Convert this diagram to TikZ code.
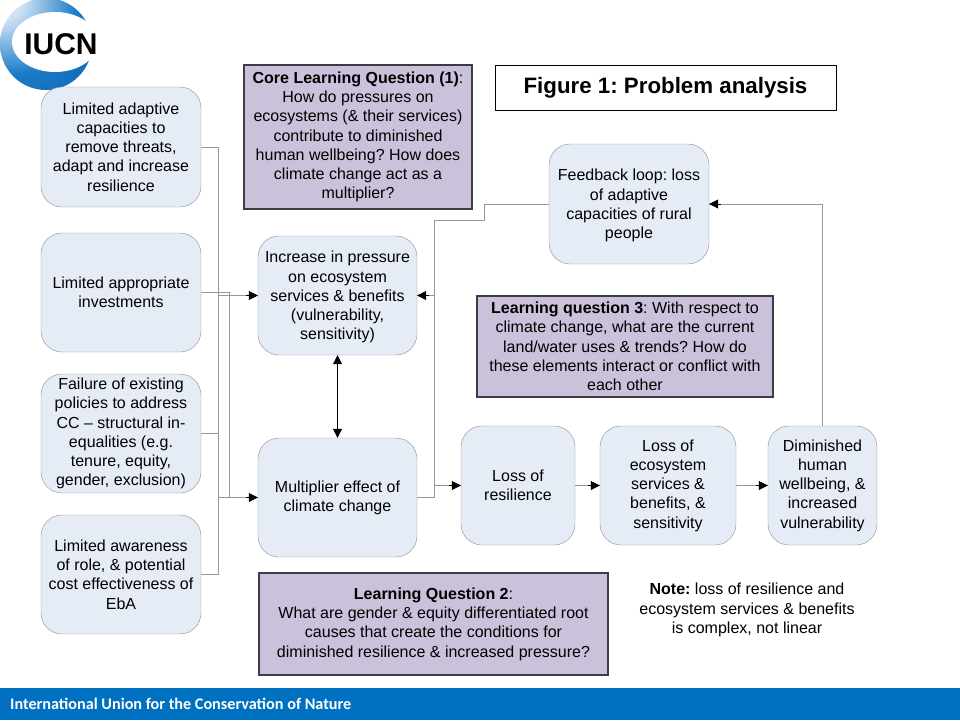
\documentclass[tikz,border=0pt]{standalone}
\usepackage{fontspec}
\setmainfont{Liberation Sans}
\newfontfamily\footfont{Carlito}
\usetikzlibrary{arrows.meta}
\frenchspacing
\definecolor{boxfill}{RGB}{230,236,246}
\definecolor{boxline}{RGB}{138,144,154}
\definecolor{questfill}{RGB}{204,193,218}
\definecolor{questline}{RGB}{60,60,70}
\definecolor{linkgrey}{RGB}{150,150,150}
\definecolor{footblue}{RGB}{0,112,192}
\pgfdeclareradialshading{logoring}{\pgfpoint{-28bp}{28bp}}{
  rgb(0bp)=(0.93,0.96,0.98);rgb(12bp)=(0.80,0.88,0.95);rgb(34bp)=(0.10,0.48,0.78);
  rgb(62bp)=(0.05,0.36,0.65);rgb(90bp)=(0.02,0.25,0.50)}
\newcommand{\lowfirst}{\rule{0pt}{15pt}}
\tikzset{
  causebox/.style={draw=boxline, fill=boxfill, rounded corners=21pt, align=center, inner sep=0pt,
    font=\fontsize{16}{19.25}\selectfont},
  questbox/.style={draw=questline, line width=1.2pt, fill=questfill, align=center, inner sep=0pt,
    font=\fontsize{16}{19.25}\selectfont},
  link/.style={draw=linkgrey, line width=0.8pt},
  arrowlink/.style={draw=black, line width=0.6pt, -{Triangle[length=9pt,width=9pt]}},
}
\begin{document}
\begin{tikzpicture}[x=1pt,y=1pt,yscale=-1]
\useasboundingbox (0,0) rectangle (960,720);

% --- LOGO ---
\begin{scope}
  \clip (0,0) rectangle (100,95);
  \shade[shading=logoring] (46,44) circle (46);
  \fill[white] (55,42) ellipse (43 and 30);
\end{scope}
\node[font=\bfseries\fontsize{30}{32}\selectfont, inner sep=0pt] (logotext) at (61,44) {IUCN};

% --- LEFT CAUSES ---
\node[causebox, minimum width=160pt, minimum height=120pt] (adaptive) at (121,147) {Limited adaptive\\capacities to\\remove threats,\\adapt and increase\\resilience};
\node[causebox, minimum width=160pt, minimum height=119pt] (invest) at (121,292.5) {Limited appropriate\\investments};
\node[causebox, minimum width=160pt, minimum height=119pt] (policy) at (121,433.5) {Failure of existing\\policies to address\\CC -- structural in-\\equalities (e.g.\\tenure, equity,\\gender, exclusion)};
\node[causebox, minimum width=160pt, minimum height=119pt] (aware) at (121,574.5) {Limited awareness\\of role, \& potential\\cost effectiveness of\\EbA};

% --- MIDDLE AND RIGHT BOXES ---
\node[causebox, minimum width=159pt, minimum height=119pt] (pressure) at (337.5,295.5) {\lowfirst Increase in pressure\\on ecosystem\\services \& benefits\\(vulnerability,\\sensitivity)};
\node[causebox, minimum width=159pt, minimum height=119pt] (multiplier) at (337.5,497.5) {Multiplier effect of\\climate change};
\node[causebox, minimum width=114pt, minimum height=119pt] (resilience) at (518,485.5) {Loss of\\resilience};
\node[causebox, minimum width=136pt, minimum height=119pt] (ecoloss) at (668,485.5) {Loss of\\ecosystem\\services \&\\benefits, \&\\sensitivity};
\node[causebox, minimum width=109pt, minimum height=119pt] (wellbeing) at (822.5,485.5) {Diminished\\human\\wellbeing, \&\\increased\\vulnerability};
\node[causebox, minimum width=160pt, minimum height=120pt] (feedback) at (629,204) {\lowfirst Feedback loop: loss\\of adaptive\\capacities of rural\\people};

% --- QUESTION BOXES ---
\node[questbox, minimum width=228pt, minimum height=144pt] (coreq) at (358,137) {\textbf{Core Learning Question (1)}:\\How do pressures on\\ecosystems (\& their services)\\contribute to diminished\\human wellbeing? How does\\climate change act as a\\multiplier?};
\node[questbox, minimum width=296pt, minimum height=101pt] (thirdq) at (625,346.5) {\textbf{Learning question 3}: With respect to\\climate change, what are the current\\land/water uses \& trends? How do\\these elements interact or conflict with\\each other};
\node[questbox, minimum width=349pt, minimum height=102pt] (secondq) at (433.5,624) {\textbf{Learning Question 2}:\\What are gender \& equity differentiated root\\causes that create the conditions for\\diminished resilience \& increased pressure?};

% --- TITLE AND NOTE ---
\node[draw=black, line width=1pt, fill=white, minimum width=341pt, minimum height=45pt, inner sep=0pt, font=\bfseries\fontsize{22.3}{24}\selectfont] (title) at (665.5,87.5) {Figure 1: Problem analysis};
\node[align=center, inner sep=0pt, font=\fontsize{16}{19.5}\selectfont] (note) at (747,610) {\textbf{Note:} loss of resilience and\\ecosystem services \& benefits\\is complex, not linear};

% --- CONNECTORS ---
\coordinate (trunktop) at (218,147);
\coordinate (trunkend) at (218,574.5);
\coordinate (splitx) at (229,292.5);
\coordinate (riser) at (434,497.5);
\coordinate (jog) at (484,220);
\draw[link] (adaptive.east) -- (trunktop) -- (trunkend) -- (aware.east);
\draw[link] (policy.east) -- (policy.east -| trunktop);
\draw[link] (invest.east) -- (splitx) -- (splitx |- multiplier.west);
\draw[link] (trunktop |- pressure.west) -- (pressure.west);
\draw[link] (trunktop |- multiplier.west) -- (multiplier.west);
\draw[link] (multiplier.east) -- (riser) -- (riser |- jog) -- (jog) -- (jog |- feedback.west) -- (feedback.west);
\draw[link] (riser |- pressure.east) -- (pressure.east);
\draw[link] (riser |- resilience.west) -- (resilience.west);
\draw[link] (wellbeing.north) -- (wellbeing.north |- feedback.east) -- (feedback.east);
\draw[link] (resilience.east) -- (ecoloss.west);
\draw[link] (ecoloss.east) -- (wellbeing.west);

% arrow heads sit over the grey lines
\draw[arrowlink] ([xshift=-12pt]pressure.west) -- (pressure.west);
\draw[arrowlink] ([xshift=-12pt]multiplier.west) -- (multiplier.west);
\draw[arrowlink] ([xshift=12pt]pressure.east) -- (pressure.east);
\draw[arrowlink] ([xshift=-12pt]resilience.west) -- (resilience.west);
\draw[arrowlink] ([xshift=-12pt]ecoloss.west) -- (ecoloss.west);
\draw[arrowlink] ([xshift=-12pt]wellbeing.west) -- (wellbeing.west);
\draw[arrowlink] ([xshift=12pt]feedback.east) -- (feedback.east);
\draw[draw=black, line width=0.6pt, {Triangle[length=9pt,width=9pt]}-{Triangle[length=9pt,width=9pt]}] (pressure.south) -- (multiplier.north);

% --- FOOTER ---
\fill[footblue] (0,688) rectangle (960,720);
\node[anchor=west, text=white, inner sep=0pt, font=\footfont\bfseries\fontsize{16.2}{18}\selectfont] (footer) at (10,704) {International Union for the Conservation of Nature};
\end{tikzpicture}
\end{document}
